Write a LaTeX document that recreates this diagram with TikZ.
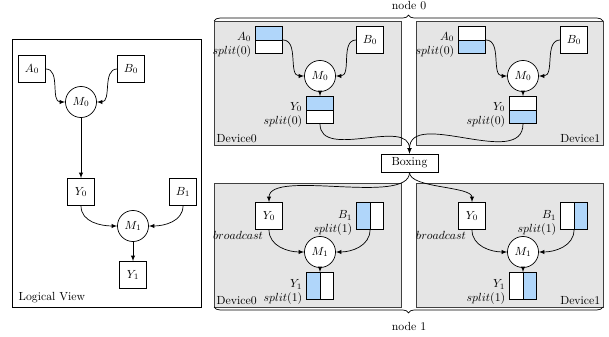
\documentclass[tikz,border=0pt]{standalone}
\usepackage{amsmath}
\usepackage{amssymb}
\usetikzlibrary{decorations.pathreplacing}
\definecolor{splitblue}{RGB}{176,214,250}
\tikzset{
    tensor/.style={draw, fill=white, minimum size=23pt, inner sep=0pt},
    op/.style={draw, circle, fill=white, minimum size=26.4pt, inner sep=0pt},
    device/.style={draw=black!75, fill=gray!20},
    tag/.style={anchor=east, align=right, inner sep=1pt},
    tophalf/.style={path picture={
        \fill[splitblue] (path picture bounding box.north west) rectangle (path picture bounding box.east);
        \draw (path picture bounding box.west) -- (path picture bounding box.east);}},
    bothalf/.style={path picture={
        \fill[splitblue] (path picture bounding box.west) rectangle (path picture bounding box.south east);
        \draw (path picture bounding box.west) -- (path picture bounding box.east);}},
    lefthalf/.style={path picture={
        \fill[splitblue] (path picture bounding box.south west) rectangle (path picture bounding box.north);
        \draw (path picture bounding box.north) -- (path picture bounding box.south);}},
    righthalf/.style={path picture={
        \fill[splitblue] (path picture bounding box.south) rectangle (path picture bounding box.north east);
        \draw (path picture bounding box.north) -- (path picture bounding box.south);}},
}
\begin{document}
\begin{tikzpicture}[x=0.85pt, y=-0.85pt, >=latex, line width=0.6pt]
        \useasboundingbox (0,0) rectangle (609,337);
        % logical view
        \draw (12,39) rectangle (201,307);
        \node[anchor=south west, inner sep=2pt] (lview) at (16,306) {Logical View};
        \node[tensor] (lA0) at (32,69) {$A_0$};
        \node[tensor] (lB0) at (131,69) {$B_0$};
        \node[op] (lM0) at (81,102) {$M_0$};
        \node[tensor] (lY0) at (81,192) {$Y_0$};
        \node[tensor] (lB1) at (183,192) {$B_1$};
        \node[op] (lM1) at (133,226) {$M_1$};
        \node[tensor] (lY1) at (133,275) {$Y_1$};
        \draw[->] (lA0.east) to[out=0, in=180] (lM0.west);
        \draw[->] (lB0.west) to[out=180, in=0] (lM0.east);
        \draw[->] (lM0) -- (lY0);
        \draw[->] (lY0.south) to[out=-90, in=180] (lM1.west);
        \draw[->] (lB1.south) to[out=-90, in=0] (lM1.east);
        \draw[->] (lM1) -- (lY1);

        % node 0, device 0
        \draw[device] (214,21) rectangle (401,145);
        \node[anchor=south west, inner sep=2pt] (t0dev) at (214,145) {Device0};
        \node[tensor, tophalf] (t0A0) at (269,40) {};
        \node[tensor] (t0B0) at (370,40) {$B_0$};
        \node[op] (t0M0) at (320,76) {$M_0$};
        \node[tensor, tophalf] (t0Y0) at (320,110) {};
        \node[tag] (t0A0l) at ([xshift=-2pt, yshift=-4pt]t0A0.west) {$A_0$\\$split(0)$};
        \node[tag] (t0Y0l) at ([xshift=-2pt, yshift=-4pt]t0Y0.west) {$Y_0$\\$split(0)$};
        \draw[->] (t0A0.east) to[out=0, in=180] (t0M0.west);
        \draw[->] (t0B0.west) to[out=180, in=0] (t0M0.east);
        \draw[->] (t0M0) -- (t0Y0);

        % node 0, device 1
        \draw[device] (416,21) rectangle (603,145);
        \node[anchor=south east, inner sep=2pt] (t1dev) at (603,145) {Device1};
        \node[tensor, bothalf] (t1A0) at (472,40) {};
        \node[tensor] (t1B0) at (574,40) {$B_0$};
        \node[op] (t1M0) at (523,76) {$M_0$};
        \node[tensor, bothalf] (t1Y0) at (523,110) {};
        \node[tag] (t1A0l) at ([xshift=-2pt, yshift=-4pt]t1A0.west) {$A_0$\\$split(0)$};
        \node[tag] (t1Y0l) at ([xshift=-2pt, yshift=-4pt]t1Y0.west) {$Y_0$\\$split(0)$};
        \draw[->] (t1A0.east) to[out=0, in=180] (t1M0.west);
        \draw[->] (t1B0.west) to[out=180, in=0] (t1M0.east);
        \draw[->] (t1M0) -- (t1Y0);

        % boxing
        \node[draw, fill=white, minimum width=48.5pt, minimum height=15.3pt, inner sep=0pt] (boxing) at (409.5,163) {Boxing};
        \draw[->] (t0Y0.south) to[out=-90, in=90] (boxing.north);
        \draw[->] (t1Y0.south) to[out=-90, in=90] (boxing.north);

        % node 1, device 0
        \draw[device] (214,183) rectangle (401,307);
        \node[anchor=south west, inner sep=2pt] (b0dev) at (214,307) {Device0};
        \node[tensor] (b0Y0) at (269,216) {$Y_0$};
        \node[tensor, lefthalf] (b0B1) at (370,216) {};
        \node[op] (b0M1) at (320,252) {$M_1$};
        \node[tensor, lefthalf] (b0Y1) at (320,286) {};
        \node[anchor=north east, inner sep=1pt] (b0bc) at ([xshift=8pt]b0Y0.south west) {$broadcast$};
        \node[tag] (b0B1l) at ([xshift=-2pt, yshift=-6pt]b0B1.west) {$B_1$\\$split(1)$};
        \node[tag] (b0Y1l) at ([xshift=-2pt, yshift=-5pt]b0Y1.west) {$Y_1$\\$split(1)$};
        \draw[->] (boxing.south) to[out=-90, in=90, looseness=0.6] (b0Y0.north);
        \draw[->] (b0Y0.south) to[out=-90, in=180] (b0M1.west);
        \draw[->] (b0B1.south) to[out=-90, in=0] (b0M1.east);
        \draw[->] (b0M1) -- (b0Y1);

        % node 1, device 1
        \draw[device] (416,183) rectangle (603,307);
        \node[anchor=south east, inner sep=2pt] (b1dev) at (603,307) {Device1};
        \node[tensor] (b1Y0) at (472,216) {$Y_0$};
        \node[tensor, righthalf] (b1B1) at (574,216) {};
        \node[op] (b1M1) at (523,252) {$M_1$};
        \node[tensor, righthalf] (b1Y1) at (523,286) {};
        \node[anchor=north east, inner sep=1pt] (b1bc) at ([xshift=8pt]b1Y0.south west) {$broadcast$};
        \node[tag] (b1B1l) at ([xshift=-2pt, yshift=-6pt]b1B1.west) {$B_1$\\$split(1)$};
        \node[tag] (b1Y1l) at ([xshift=-2pt, yshift=-5pt]b1Y1.west) {$Y_1$\\$split(1)$};
        \draw[->] (boxing.south) to[out=-90, in=90, looseness=0.6] (b1Y0.north);
        \draw[->] (b1Y0.south) to[out=-90, in=180] (b1M1.west);
        \draw[->] (b1B1.south) to[out=-90, in=0] (b1M1.east);
        \draw[->] (b1M1) -- (b1Y1);

        % braces
        \draw[decorate, decoration={brace, amplitude=5pt}] (214,21) -- (603,21);
        \node (n0) at (409,6) {node 0};
        \draw[decorate, decoration={brace, amplitude=5pt}] (603,307) -- (214,307);
        \node (n1) at (409,326) {node 1};
\end{tikzpicture}
\end{document}
